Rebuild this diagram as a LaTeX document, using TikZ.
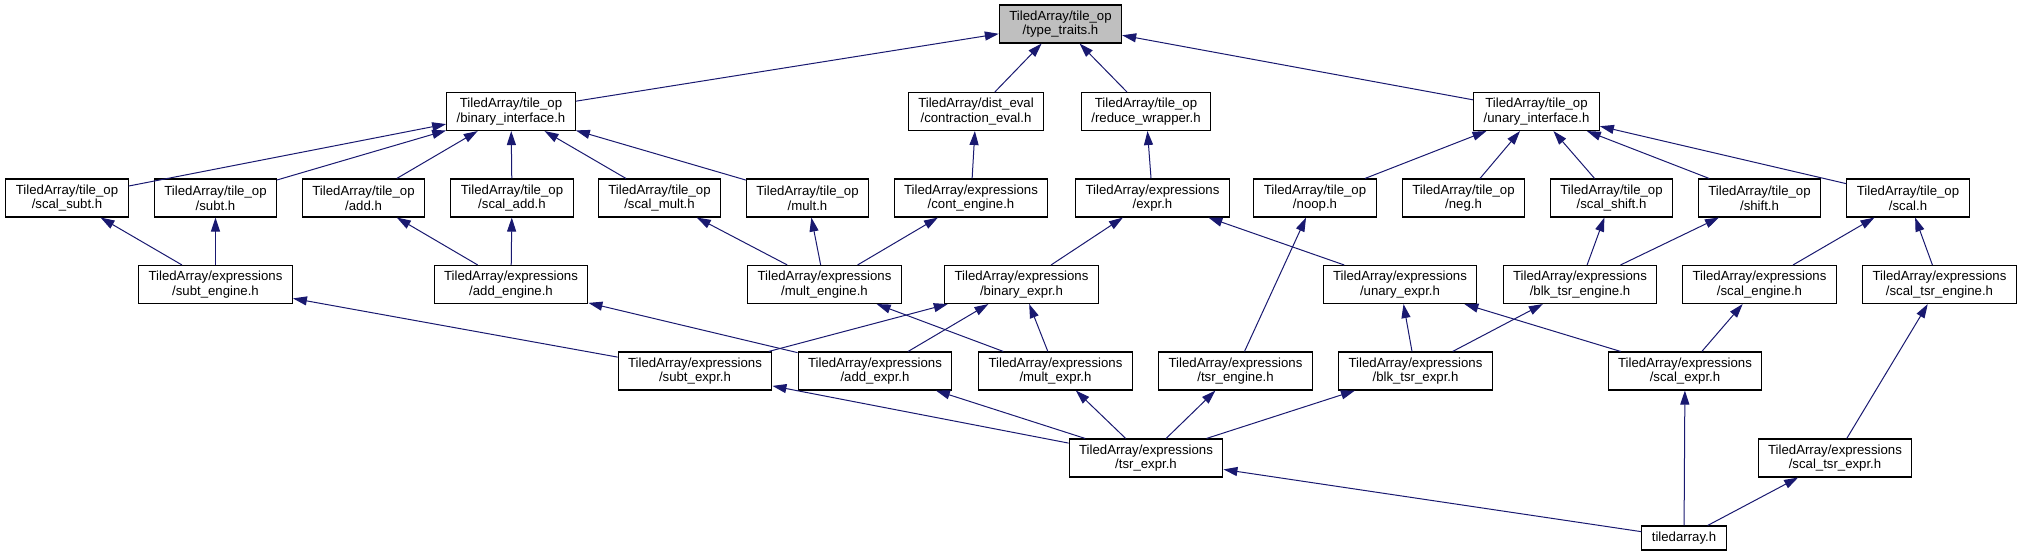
\documentclass[tikz,border=0pt]{standalone}
\usepackage{fontspec}
\setmainfont{Liberation Sans}
\usetikzlibrary{arrows.meta}
\definecolor{edgeblue}{HTML}{191970}
\definecolor{rootgray}{HTML}{BFBFBF}

\begin{document}
\begin{tikzpicture}[x=1pt, y=-1pt,
    every node/.style={font=\fontsize{13.2}{14.6}\selectfont},
    incbox/.style={draw=black, line width=1.1pt, fill=white, align=center,
      inner xsep=10pt, inner ysep=0pt, minimum height=38pt},
    incedge/.style={edgeblue, line width=1pt,
      -{Triangle[length=14pt,width=9pt]}}]
  \useasboundingbox (0,0) rectangle (2023,556);

  % racine
  \node[incbox, fill=rootgray] (tt) at (1060.5,24) {TiledArray/tile\_op\\/type\_traits.h};

  % interfaces
  \node[incbox] (binif) at (511,111.5) {TiledArray/tile\_op\\/binary\_interface.h};
  \node[incbox] (conteval) at (976,111.5) {TiledArray/dist\_eval\\/contraction\_eval.h};
  \node[incbox] (redwrap) at (1146,111.5) {TiledArray/tile\_op\\/reduce\_wrapper.h};
  \node[incbox] (unif) at (1536.5,111.5) {TiledArray/tile\_op\\/unary\_interface.h};

  % opérations sur les tuiles
  \node[incbox] (scalsubt) at (67,198) {TiledArray/tile\_op\\/scal\_subt.h};
  \node[incbox] (subt) at (215.5,198) {TiledArray/tile\_op\\/subt.h};
  \node[incbox] (add) at (363.5,198) {TiledArray/tile\_op\\/add.h};
  \node[incbox] (scaladd) at (512,198) {TiledArray/tile\_op\\/scal\_add.h};
  \node[incbox] (scalmult) at (659.5,198) {TiledArray/tile\_op\\/scal\_mult.h};
  \node[incbox] (mult) at (807.5,198) {TiledArray/tile\_op\\/mult.h};
  \node[incbox] (conteng) at (971,198) {TiledArray/expressions\\/cont\_engine.h};
  \node[incbox] (expr) at (1152.5,198) {TiledArray/expressions\\/expr.h};
  \node[incbox] (noop) at (1315,198) {TiledArray/tile\_op\\/noop.h};
  \node[incbox] (neg) at (1463.5,198) {TiledArray/tile\_op\\/neg.h};
  \node[incbox] (scalshift) at (1611.5,198) {TiledArray/tile\_op\\/scal\_shift.h};
  \node[incbox] (shift) at (1759.5,198) {TiledArray/tile\_op\\/shift.h};
  \node[incbox] (scal) at (1908,198) {TiledArray/tile\_op\\/scal.h};

  % moteurs
  \node[incbox] (subteng) at (215.5,284.5) {TiledArray/expressions\\/subt\_engine.h};
  \node[incbox] (addeng) at (511,284.5) {TiledArray/expressions\\/add\_engine.h};
  \node[incbox] (multeng) at (824.5,284.5) {TiledArray/expressions\\/mult\_engine.h};
  \node[incbox] (binexpr) at (1021.5,284.5) {TiledArray/expressions\\/binary\_expr.h};
  \node[incbox] (unexpr) at (1400,284.5) {TiledArray/expressions\\/unary\_expr.h};
  \node[incbox] (blkeng) at (1580,284.5) {TiledArray/expressions\\/blk\_tsr\_engine.h};
  \node[incbox] (scaleng) at (1759.5,284.5) {TiledArray/expressions\\/scal\_engine.h};
  \node[incbox] (scaltsreng) at (1939.5,284.5) {TiledArray/expressions\\/scal\_tsr\_engine.h};

  % expressions
  \node[incbox] (subtexpr) at (695,371) {TiledArray/expressions\\/subt\_expr.h};
  \node[incbox] (addexpr) at (875,371) {TiledArray/expressions\\/add\_expr.h};
  \node[incbox] (multexpr) at (1055.5,371) {TiledArray/expressions\\/mult\_expr.h};
  \node[incbox] (tsreng) at (1235.5,371) {TiledArray/expressions\\/tsr\_engine.h};
  \node[incbox] (blkexpr) at (1415.5,371) {TiledArray/expressions\\/blk\_tsr\_expr.h};
  \node[incbox] (scalexpr) at (1685,371) {TiledArray/expressions\\/scal\_expr.h};

  \node[incbox] (tsrexpr) at (1146,458) {TiledArray/expressions\\/tsr\_expr.h};
  \node[incbox] (scaltsrexpr) at (1835,458) {TiledArray/expressions\\/scal\_tsr\_expr.h};
  \node[incbox, minimum height=24pt] (tiled) at (1684,538) {tiledarray.h};

  % inclusions : la flèche pointe vers le fichier inclus
  \foreach \a/\b in {binif/tt, conteval/tt, redwrap/tt, unif/tt,
      scalsubt/binif, subt/binif, add/binif, scaladd/binif, scalmult/binif, mult/binif,
      conteng/conteval, expr/redwrap,
      noop/unif, neg/unif, scalshift/unif, shift/unif, scal/unif,
      subteng/scalsubt, subteng/subt, addeng/add, addeng/scaladd,
      multeng/scalmult, multeng/mult, multeng/conteng,
      binexpr/expr, unexpr/expr, tsreng/noop,
      blkeng/scalshift, blkeng/shift, scaleng/scal, scaltsreng/scal,
      subtexpr/subteng, subtexpr/binexpr, addexpr/addeng, addexpr/binexpr,
      multexpr/multeng, multexpr/binexpr,
      blkexpr/unexpr, blkexpr/blkeng, scalexpr/unexpr, scalexpr/scaleng,
      tsrexpr/subtexpr, tsrexpr/addexpr, tsrexpr/multexpr, tsrexpr/tsreng, tsrexpr/blkexpr,
      scaltsrexpr/scaltsreng,
      tiled/tsrexpr, tiled/scalexpr, tiled/scaltsrexpr}
    \draw[incedge] (\a) -- (\b);
\end{tikzpicture}
\end{document}
